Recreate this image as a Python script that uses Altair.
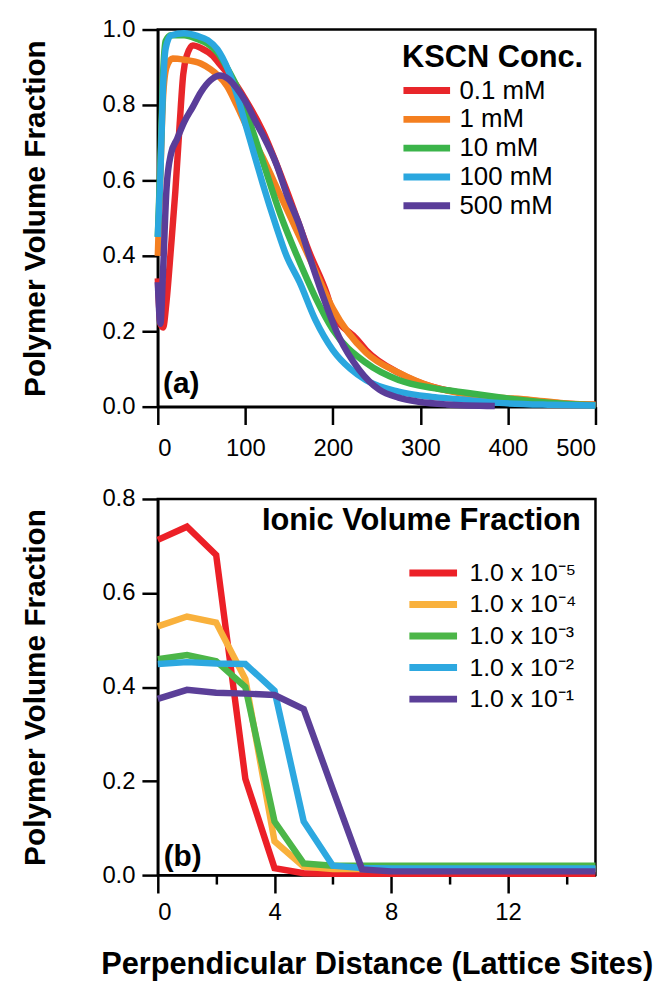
import altair as alt
import pandas as pd

FONT = "Liberation Sans"

# ---------------- Panel (a): KSCN concentration ----------------
top_names = ["0.1 mM", "1 mM", "10 mM", "100 mM", "500 mM"]
top_colors = ["#E8262A", "#F47F20", "#3BB44A", "#2AA7DF", "#5A3D99"]

red_x = [0, 3, 6, 10, 15, 20, 25, 29, 33, 40, 50, 63, 70, 83, 100, 120, 147, 173, 193, 200, 227, 238, 275, 313, 343, 400, 450, 500]
red_y = [0.34, 0.22, 0.21, 0.28, 0.42, 0.57, 0.75, 0.88, 0.93, 0.958, 0.95, 0.93, 0.91, 0.875, 0.815, 0.73, 0.575, 0.41, 0.30, 0.25, 0.18, 0.15, 0.09, 0.053, 0.038, 0.02, 0.01, 0.005]

orange_x = [0, 3, 6, 10, 17, 30, 49, 60, 68, 79, 90, 100, 120, 140, 160, 180, 200, 238, 275, 313, 343, 380, 426, 460, 500]
orange_y = [0.40, 0.62, 0.82, 0.90, 0.923, 0.92, 0.91, 0.895, 0.88, 0.85, 0.80, 0.75, 0.66, 0.56, 0.46, 0.36, 0.26, 0.143, 0.09, 0.053, 0.037, 0.026, 0.018, 0.01, 0.005]

green_x = [0, 3, 6, 9, 15, 30, 45, 57, 68, 80, 90, 100, 110, 120, 140, 159, 180, 200, 238, 275, 313, 343, 400, 450, 500]
green_y = [0.45, 0.65, 0.88, 0.97, 0.985, 0.985, 0.975, 0.962, 0.94, 0.895, 0.85, 0.79, 0.72, 0.65, 0.51, 0.40, 0.29, 0.204, 0.116, 0.071, 0.05, 0.04, 0.022, 0.01, 0.004]

blue_x = [0, 3, 6, 9, 15, 30, 45, 57, 68, 80, 90, 100, 110, 120, 135, 147, 162, 180, 200, 220, 238, 275, 313, 343, 390, 450, 500]
blue_y = [0.45, 0.62, 0.85, 0.95, 0.984, 0.99, 0.983, 0.972, 0.948, 0.895, 0.83, 0.75, 0.67, 0.59, 0.48, 0.40, 0.33, 0.23, 0.15, 0.10, 0.07, 0.04, 0.026, 0.02, 0.01, 0.005, 0.003]

purple_x = [0, 3, 6, 10, 15, 22, 30, 40, 49, 60, 71, 80, 90, 100, 113, 120, 136, 147, 162, 173, 185, 207, 230, 253, 275, 298, 330, 385]
purple_y = [0.33, 0.22, 0.36, 0.58, 0.67, 0.71, 0.754, 0.795, 0.833, 0.865, 0.878, 0.87, 0.845, 0.81, 0.75, 0.72, 0.64, 0.565, 0.48, 0.40, 0.317, 0.185, 0.098, 0.045, 0.024, 0.013, 0.006, 0.002]

top_xs = [red_x, orange_x, green_x, blue_x, purple_x]
top_ys = [red_y, orange_y, green_y, blue_y, purple_y]

# ---------------- Panel (b): ionic volume fraction ----------------
bot_names = ["1.0 x 10\u207b\u2075", "1.0 x 10\u207b\u2074", "1.0 x 10\u207b\u00b3",
             "1.0 x 10\u207b\u00b2", "1.0 x 10\u207b\u00b9"]
bot_colors = ["#EC2027", "#F9B13C", "#4CB648", "#2DA8E0", "#5B3F98"]

sites = list(range(16))
b_red = [0.713, 0.741, 0.681, 0.205, 0.015, 0.004, 0.003, 0.003, 0.003, 0.003, 0.003, 0.003, 0.003, 0.003, 0.003, 0.003]
b_orange = [0.529, 0.550, 0.537, 0.417, 0.072, 0.018, 0.013, 0.013, 0.013, 0.013, 0.013, 0.013, 0.013, 0.013, 0.013, 0.013]
b_green = [0.459, 0.468, 0.455, 0.400, 0.114, 0.025, 0.020, 0.020, 0.020, 0.020, 0.020, 0.020, 0.020, 0.020, 0.020, 0.020]
b_blue = [0.449, 0.453, 0.450, 0.449, 0.392, 0.114, 0.020, 0.015, 0.014, 0.014, 0.014, 0.014, 0.014, 0.014, 0.014, 0.014]
b_purple = [0.375, 0.394, 0.388, 0.386, 0.383, 0.353, 0.182, 0.012, 0.008, 0.008, 0.008, 0.008, 0.008, 0.008, 0.008, 0.008]
bot_ys = [b_red, b_orange, b_green, b_blue, b_purple]


def to_long(xs_list, ys_list, names):
    rows = []
    for xs, ys, n in zip(xs_list, ys_list, names):
        for x, y in zip(xs, ys):
            rows.append({"x": x, "y": y, "series": n})
    return pd.DataFrame(rows)


df_top = to_long(top_xs, top_ys, top_names)
df_bot = to_long([sites] * 5, bot_ys, bot_names)

W = 441
LINE_SYM = "M-2.5,0H2.5"


def text_layer(txt, x, y, size, align="left"):
    return alt.Chart(pd.DataFrame({"t": [txt]})).mark_text(
        align=align, baseline="alphabetic", fontSize=size, fontWeight="bold", font=FONT, color="black"
    ).encode(x=alt.datum(x), y=alt.datum(y), text="t:N")


top_lines = alt.Chart(df_top).mark_line(strokeWidth=6.5, interpolate="monotone").encode(
    x=alt.X("x:Q", scale=alt.Scale(domain=[0, 500], nice=False),
            axis=alt.Axis(values=[0, 100, 200, 300, 400, 500], title=None, tickSize=18, labelPadding=12)),
    y=alt.Y("y:Q", scale=alt.Scale(domain=[0, 1], nice=False),
            axis=alt.Axis(values=[0, 0.2, 0.4, 0.6, 0.8, 1.0], format=".1f",
                          title="Polymer Volume Fraction", tickSize=16, labelPadding=7, titlePadding=52)),
    color=alt.Color("series:N", sort=top_names,
                    scale=alt.Scale(domain=top_names, range=top_colors),
                    legend=alt.Legend(title=None, orient="none", legendX=258, legendY=48.5,
                                      symbolType=LINE_SYM, symbolSize=353, symbolStrokeWidth=7,
                                      labelFontSize=26, labelFont=FONT, labelColor="black",
                                      rowPadding=1, labelOffset=20)),
)

top = alt.layer(
    top_lines,
    text_layer("KSCN Conc.", 279, 0.90, 31),
    text_layer("(a)", 6, 0.035, 30),
).properties(width=W, height=380)

bot_lines = alt.Chart(df_bot).mark_line(strokeWidth=6.5).encode(
    x=alt.X("x:Q", scale=alt.Scale(domain=[0, 15], nice=False),
            axis=alt.Axis(values=[0, 2, 4, 6, 8, 10, 12, 14],
                          labelExpr="datum.value % 4 === 0 ? datum.label : ''",
                          tickSize={"condition": {"test": "datum.value % 4 === 0", "value": 18}, "value": 9},
                          labelPadding=8, title="Perpendicular Distance (Lattice Sites)", titlePadding=25,
                          titleFontSize=31)),
    y=alt.Y("y:Q", scale=alt.Scale(domain=[0, 0.8], nice=False),
            axis=alt.Axis(values=[0, 0.2, 0.4, 0.6, 0.8], format=".1f",
                          title="Polymer Volume Fraction", tickSize=16, labelPadding=7, titlePadding=52)),
    color=alt.Color("series:N", sort=bot_names,
                    scale=alt.Scale(domain=bot_names, range=bot_colors),
                    legend=alt.Legend(title=None, orient="none", legendX=264, legendY=61,
                                      symbolType=LINE_SYM, symbolSize=369, symbolStrokeWidth=7,
                                      labelFontSize=25, labelFont=FONT, labelColor="black",
                                      rowPadding=2.8, labelOffset=23)),
)

bot = alt.layer(
    bot_lines,
    text_layer("Ionic Volume Fraction", 14.5, 0.735, 31, align="right"),
    text_layer("(b)", 0.2, 0.02, 30),
).properties(width=W, height=379)

chart = alt.vconcat(top, bot, spacing=23).resolve_scale(color="independent").properties(
    padding={"left": 19, "top": 12, "right": 5, "bottom": 5}, background="white"
).configure_axis(
    labelFont=FONT, labelFontSize=24, labelColor="black",
    titleFont=FONT, titleFontSize=30, titleFontWeight="bold", titleColor="black",
    domainColor="black", domainWidth=2.5, tickColor="black", tickWidth=2.5, grid=False,
).configure_view(stroke="black", strokeWidth=2.5)

chart.save("out.html", embed_options={"renderer": "svg", "actions": False})
